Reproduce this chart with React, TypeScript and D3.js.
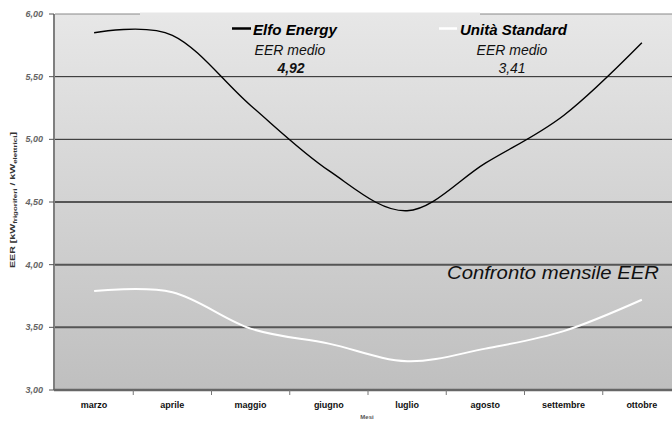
import React from "react";
import * as d3 from "d3";

const months = ["marzo", "aprile", "maggio", "giugno", "luglio", "agosto", "settembre", "ottobre"];
const elfoEnergy = [5.85, 5.83, 5.27, 4.75, 4.43, 4.81, 5.19, 5.77];
const unitaStandard = [3.79, 3.78, 3.49, 3.37, 3.23, 3.33, 3.47, 3.72];
const yTicks = [3.0, 3.5, 4.0, 4.5, 5.0, 5.5, 6.0];
const yTickLabels = ["3,00", "3,50", "4,00", "4,50", "5,00", "5,50", "6,00"];
const seriesNames = ["Elfo Energy", "Unità Standard"];
const averages = ["4,92", "3,41"];

const W = 672;
const H = 421;
const left = 55;
const right = 681;
const top = 14;
const bottom = 390;

export default function App() {
  const x = d3.scaleBand<string>().domain(months).range([left, right]).padding(0);
  const y = d3.scaleLinear().domain([3, 6]).range([bottom, top]);
  const cx = (m: string) => (x(m) as number) + x.bandwidth() / 2;
  const line = d3
    .line<number>()
    .x((_, i) => cx(months[i]))
    .y((v) => y(v))
    .curve(d3.curveCardinal.tension(0));

  const font = "'Liberation Sans', Arial, sans-serif";
  const boundaries = months.slice(1).map((m) => x(m) as number);

  return (
    <svg
      width={W}
      height={H}
      style={{ position: "fixed", left: 0, top: 0, background: "#fff" }}
      fontFamily={font}
    >
      <defs>
        <linearGradient id="bg" gradientUnits="userSpaceOnUse" x1="0" y1={top} x2="0" y2={bottom}>
          <stop offset="0" stopColor="#e7e7e7" />
          <stop offset="1" stopColor="#bfbfbf" />
        </linearGradient>
      </defs>
      <rect x={left} y={top} width={W - left} height={bottom - top} fill="url(#bg)" />

      {yTicks.slice(1).map((t) => (
        <line
          key={t}
          x1={left}
          x2={W}
          y1={y(t)}
          y2={y(t)}
          stroke={t === 6 ? "#888" : t < 4.75 ? "#555" : "#222"}
          strokeWidth={t === 6 ? 1 : t < 4.75 ? 2 : 1}
        />
      ))}

      {/* legend box */}
      <rect x={140} y={12.5} width={340} height={62} fill="url(#bg)" />

      {/* axes */}
      <line x1={left - 1} x2={left - 1} y1={top} y2={bottom} stroke="#555" strokeWidth={1.5} />
      <line x1={left - 1} x2={W} y1={bottom} y2={bottom} stroke="#666" strokeWidth={2.5} />
      {yTicks.map((t) => (
        <line key={"yt" + t} x1={left - 6} x2={left - 1} y1={y(t)} y2={y(t)} stroke="#555" />
      ))}
      {boundaries.map((b) => (
        <line key={"xt" + b} x1={b} x2={b} y1={bottom} y2={bottom + 5} stroke="#777" />
      ))}

      {yTicks.map((t, i) => (
        <text
          key={"yl" + t}
          x={43}
          y={y(t)}
          dy="0.35em"
          textAnchor="end"
          fontSize={9}
          fontStyle="italic"
          fontWeight="bold"
          fill="#666"
        >
          {yTickLabels[i]}
        </text>
      ))}

      {months.map((m) => (
        <text key={m} x={cx(m)} y={408} textAnchor="middle" fontSize={9} fontWeight="bold" fill="#111">
          {m}
        </text>
      ))}
      <text x={367} y={419} textAnchor="middle" fontSize={6} fontWeight="bold" fill="#555">
        Mesi
      </text>

      <text
        transform={`translate(15,200) rotate(-90)`}
        textAnchor="middle"
        fontSize={8}
        fontWeight="bold"
        fill="#333"
        textLength={136}
        lengthAdjust="spacingAndGlyphs"
      >
        EER [kW
        <tspan fontSize={6} dy={2}>frigoriferi</tspan>
        <tspan dy={-2}> / kW</tspan>
        <tspan fontSize={6} dy={2}>elettrici</tspan>
        <tspan dy={-2}>]</tspan>
      </text>

      <path d={line(unitaStandard) || ""} fill="none" stroke="#fff" strokeWidth={2} />
      <path d={line(elfoEnergy) || ""} fill="none" stroke="#000" strokeWidth={1.4} />

      {/* legend */}
      <line x1={232} x2={251} y1={28.5} y2={28.5} stroke="#000" strokeWidth={2.5} />
      <text x={253} y={35} fontSize={14} fontWeight="bold" fontStyle="italic" fill="#000" textLength={84} lengthAdjust="spacingAndGlyphs">
        {seriesNames[0]}
      </text>
      <text x={290} y={55} textAnchor="middle" fontSize={14} fontStyle="italic" fill="#111">
        EER medio
      </text>
      <text x={291} y={73} textAnchor="middle" fontSize={14} fontWeight="bold" fontStyle="italic" fill="#111">
        {averages[0]}
      </text>

      <line x1={439} x2={457} y1={28.5} y2={28.5} stroke="#fff" strokeWidth={2.5} />
      <text x={460} y={35} fontSize={14} fontWeight="bold" fontStyle="italic" fill="#000" textLength={107} lengthAdjust="spacingAndGlyphs">
        {seriesNames[1]}
      </text>
      <text x={512} y={55} textAnchor="middle" fontSize={14} fontStyle="italic" fill="#111">
        EER medio
      </text>
      <text x={512} y={73} textAnchor="middle" fontSize={14} fontStyle="italic" fill="#111">
        {averages[1]}
      </text>

      <text x={447} y={279} fontSize={19} fontStyle="italic" fill="#111" textLength={212} lengthAdjust="spacingAndGlyphs">
        Confronto mensile EER
      </text>
    </svg>
  );
}
